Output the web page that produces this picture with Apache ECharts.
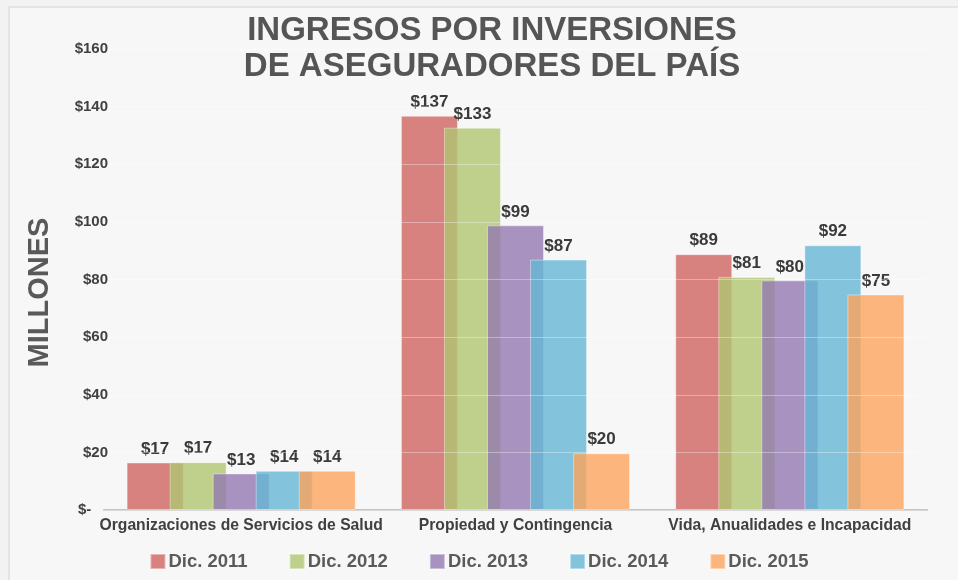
<!DOCTYPE html>
<html>
<head>
<meta charset="utf-8">
<script src="https://cdn.jsdelivr.net/npm/echarts@6/dist/echarts.min.js"></script>
<style>
    html, body { margin: 0; padding: 0; background: #f2f2f2; overflow: hidden; }
    #card {
        position: absolute; left: 8px; top: 6px; width: 970px; height: 600px;
        background: #f7f7f7; border: 2px solid #e4e4e4;
    }
    #chart { position: absolute; left: 0; top: 0; width: 958px; height: 580px; }
</style>
</head>
<body>
<div id="card"></div>
<div id="chart"></div>
<script>
// 类别与数据
const categories = ['Organizaciones de Servicios de Salud', 'Propiedad y Contingencia', 'Vida, Anualidades e Incapacidad'];
const seriesNames = ['Dic. 2011', 'Dic. 2012', 'Dic. 2013', 'Dic. 2014', 'Dic. 2015'];
const dic2011 = [16.5, 136.8, 88.8];
const dic2012 = [16.6, 132.7, 80.9];
const dic2013 = [12.7, 98.8, 79.7];
const dic2014 = [13.6, 86.9, 91.9];
const dic2015 = [13.6, 19.7, 74.8];
// 半透明颜色，重叠处自然混色
const colors = ['rgba(206,100,96,0.8)', 'rgba(175,198,112,0.8)', 'rgba(148,120,176,0.8)', 'rgba(101,183,213,0.8)', 'rgba(253,164,92,0.8)'];

const chart = echarts.init(document.getElementById('chart'));

const font = 'Liberation Sans, Arial, Helvetica, sans-serif';

const allData = [dic2011, dic2012, dic2013, dic2014, dic2015];

const series = allData.map((d, i) => ({
    name: seriesNames[i],
    type: 'bar',
    data: d,
    barWidth: 57,
    barGap: '-24.5%',
    itemStyle: {
        color: colors[i],
        borderColor: 'rgba(255,255,255,0.4)',
        borderWidth: 1
    },
    label: {
        show: true,
        position: 'top',
        distance: 5,
        formatter: p => '$' + Math.round(p.value),
        color: '#3a3a3a',
        fontWeight: 'bold',
        fontSize: 17,
        fontFamily: font
    }
}));

const option = {
    backgroundColor: 'transparent',
    textStyle: { fontFamily: font },
    title: {
        text: 'INGRESOS POR INVERSIONES\nDE ASEGURADORES DEL PAÍS',
        left: 487,
        textAlign: 'center',
        top: 8,
        textStyle: {
            color: '#555555',
            fontSize: 33,
            fontWeight: 'bold',
            lineHeight: 36,
            fontFamily: font
        }
    },
    legend: {
        bottom: 4,
        left: 'center',
        itemWidth: 15,
        itemHeight: 15,
        itemGap: 41,
        icon: 'rect',
        textStyle: {
            color: '#5a5a5a',
            fontSize: 18.5,
            fontWeight: 'bold',
            padding: [0, 0, 0, -2],
            fontFamily: font
        },
        data: seriesNames
    },
    grid: {
        left: 104,
        right: 31,
        top: 49,
        bottom: 70,
        containLabel: false,
        outerBoundsMode: 'none'
    },
    xAxis: {
        type: 'category',
        data: categories,
        axisLine: { lineStyle: { color: '#c4c4c4', width: 2 } },
        axisTick: { show: false },
        axisLabel: {
            color: '#404040',
            fontSize: 15.7,
            fontWeight: 'bold',
            margin: 8,
            interval: 0
        }
    },
    yAxis: {
        type: 'value',
        min: 0,
        max: 160,
        interval: 20,
        z: 3,
        name: 'MILLONES',
        nameLocation: 'middle',
        nameGap: 50,
        nameTextStyle: {
            color: '#595959',
            fontSize: 29,
            fontWeight: 'bold',
            padding: [0, 26, 0, 0]
        },
        axisLine: { show: false },
        axisTick: { show: false },
        axisLabel: {
            color: '#404040',
            fontSize: 15,
            fontWeight: 'bold',
            margin: -4,
            formatter: v => v === 0 ? '$-    ' : '$' + v
        },
        splitLine: {
            lineStyle: { color: 'rgba(255,255,255,0.35)', width: 1 }
        }
    },
    series: series
};

chart.setOption(option);
</script>
</body>
</html>
